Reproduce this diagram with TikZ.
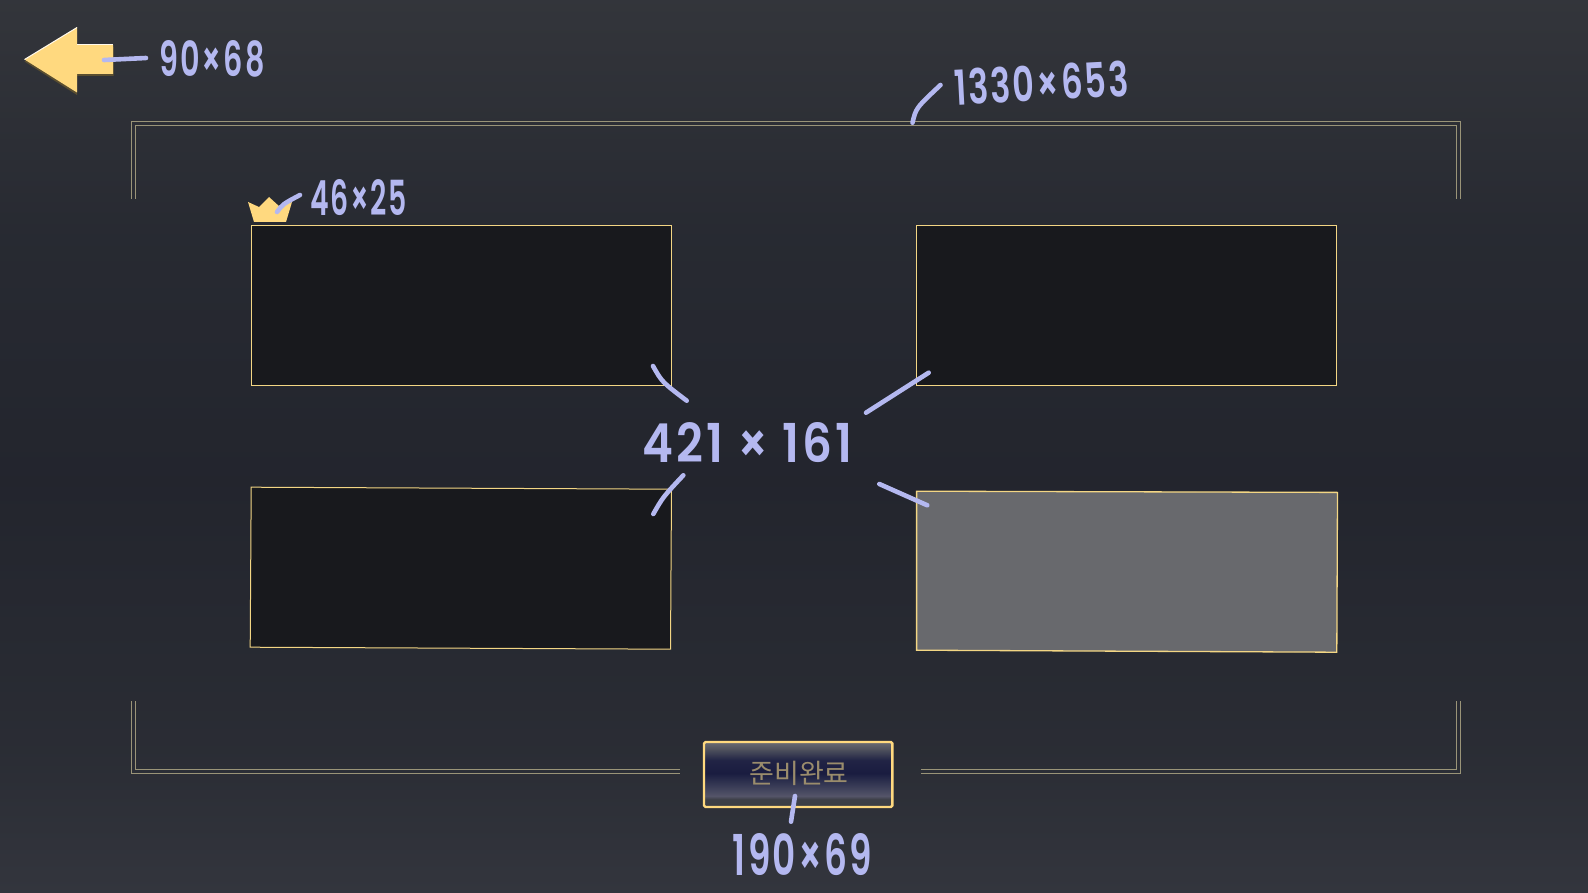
\documentclass[tikz,border=0pt]{standalone}
\usepackage{fontspec}
\usepackage{graphicx}
\setmainfont{Poppins}
\newfontfamily\krfont{Noto Sans CJK KR}
\newfontfamily\handfont{Poppins SemiBold}[LetterSpace=6]
\definecolor{pen}{HTML}{B4B8F0}
\definecolor{gold}{HTML}{FFD97F}
\definecolor{goldline}{HTML}{F3D684}
\definecolor{framecol}{HTML}{9A9478}
\definecolor{slotdark}{HTML}{18191D}
\definecolor{slotgray}{HTML}{68696D}
\definecolor{arrowshadow}{HTML}{5A4E30}
\definecolor{btntext}{HTML}{9A8C6C}
\pgfdeclareverticalshading{bgshade}{100bp}{
  rgb(0bp)=(0.20,0.208,0.24);
  rgb(25bp)=(0.20,0.208,0.24);
  rgb(33bp)=(0.165,0.175,0.205);
  rgb(48bp)=(0.137,0.145,0.178);
  rgb(62bp)=(0.155,0.165,0.195);
  rgb(75bp)=(0.20,0.208,0.23);
  rgb(100bp)=(0.20,0.208,0.23)}
\pgfdeclareverticalshading{btnshade}{100bp}{
  rgb(0bp)=(0.23,0.24,0.27);
  rgb(25bp)=(0.23,0.24,0.27);
  rgb(31bp)=(0.24,0.25,0.28);
  rgb(33.5bp)=(0.33,0.33,0.41);
  rgb(40bp)=(0.24,0.25,0.35);
  rgb(51bp)=(0.10,0.11,0.25);
  rgb(61bp)=(0.13,0.14,0.27);
  rgb(69bp)=(0.30,0.31,0.36);
  rgb(75bp)=(0.42,0.42,0.45);
  rgb(100bp)=(0.42,0.42,0.45)}
\tikzset{
  pen stroke/.style={draw=pen,line width=4.6pt,line cap=round,line join=round},
  hand/.style={text=pen,inner sep=0pt,outer sep=0pt,anchor=center,font=\handfont},
  slot/.style={draw=goldline,fill=slotdark,line width=1pt,inner sep=0pt,outer sep=0pt,minimum width=420.5pt,minimum height=159.5pt,anchor=north west},
  frame line/.style={draw=framecol,line width=1.1pt},
}
\newcommand{\handtext}[3]{\resizebox{#1pt}{#2pt}{#3}}
\begin{document}
\begin{tikzpicture}[x=1pt,y=-1pt]
\useasboundingbox (0,0) rectangle (1588,893);
\shade[shading=bgshade] (0,0) rectangle (1588,893);
% frame
\draw[frame line] (131.5,199) -- (131.5,121.5) -- (1460.5,121.5) -- (1460.5,199);
\draw[frame line] (135.7,199) -- (135.7,125.7) -- (1456.3,125.7) -- (1456.3,199);
\draw[frame line] (131.5,701) -- (131.5,773.7) -- (680,773.7);
\draw[frame line] (135.7,701) -- (135.7,769.3) -- (680,769.3);
\draw[frame line] (1460.5,701) -- (1460.5,773.7) -- (921,773.7);
\draw[frame line] (1456.3,701) -- (1456.3,769.3) -- (921,769.3);
% slots
\node[slot] (slotA) at (251.3,225.5) {};
\node[slot,minimum width=420pt] (slotB) at (916.5,225.5) {};
\draw[draw=goldline,fill=slotdark,line width=1pt] (251.2,487.2) -- (671.5,489.2) -- (670.5,649.2) -- (250.2,647.2) -- cycle;
\draw[draw=goldline,fill=slotgray,line width=1.3pt] (916.6,491.2) -- (1337.5,492.4) -- (1336.8,652.2) -- (916.6,650.2) -- cycle;
% back arrow
\fill[arrowshadow] (24.5,61.5) -- (77,29.5) -- (77,47) -- (113.5,47) -- (113.5,76) -- (77,76) -- (77,95) -- cycle;
\fill[gold] (24.5,59.5) -- (77,27.5) -- (77,45) -- (113,45) -- (113,74) -- (77,74) -- (77,92.5) -- cycle;
\draw[white!85!gold,line width=1pt] (24.5,59.5) -- (77,27.5);
\draw[white!85!gold,line width=1pt] (77,45) -- (113,45);
% crown
\fill[gold] (248,202) -- (259,207) -- (269,197) -- (280,207) -- (292,202) -- (286,222) -- (254,222) -- cycle;
% button
\shade[shading=btnshade,draw=gold,line width=2.4pt,rounded corners=1.5pt] (704,742) rectangle (892.3,807);
\node[inner sep=0pt,text=btntext] (btn) at (799,773) {\krfont\fontsize{27}{27}\selectfont 준비완료};
% hand-drawn connectors
\coordinate (a1) at (104,60); \coordinate (a2) at (146,58);
\draw[pen stroke] (a1) -- (a2);
\coordinate (c1) at (277,212); \coordinate (c2) at (300,195);
\draw[pen stroke] (c1) .. controls (283,204) .. (c2);
\coordinate (f1) at (912.5,122.7); \coordinate (f2) at (940.5,85);
\draw[pen stroke] (f1) .. controls (916,108) .. (f2);
\coordinate (t1) at (653,366); \coordinate (t2) at (686.7,400.7);
\draw[pen stroke] (t1) .. controls (662,382) .. (t2);
\coordinate (t3) at (866,412.7); \coordinate (t4) at (928.7,372.7);
\draw[pen stroke] (t3) -- (t4);
\coordinate (t5) at (653.3,514); \coordinate (t6) at (683.3,475.3);
\draw[pen stroke] (t5) .. controls (663,497) .. (t6);
\coordinate (t7) at (879.3,484); \coordinate (t8) at (927.3,505.3);
\draw[pen stroke] (t7) -- (t8);
\coordinate (b1) at (795,796); \coordinate (b2) at (791,821.7);
\draw[pen stroke] (b1) -- (b2);
% hand labels
\node[hand] (l90) at (212,59) {\handtext{105}{36}{90×68}};
\node[hand] (l46) at (358.5,198) {\handtext{97}{36}{46×25}};
\node[hand,rotate=3] (l1330) at (1041.5,83) {\handtext{174}{36}{1330×653}};
\node[hand] (l421) at (747.5,443) {\handtext{209}{40}{421 × 161}};
\node[hand] (l190) at (802.5,855) {\handtext{139}{42}{190×69}};
\end{tikzpicture}
\end{document}
